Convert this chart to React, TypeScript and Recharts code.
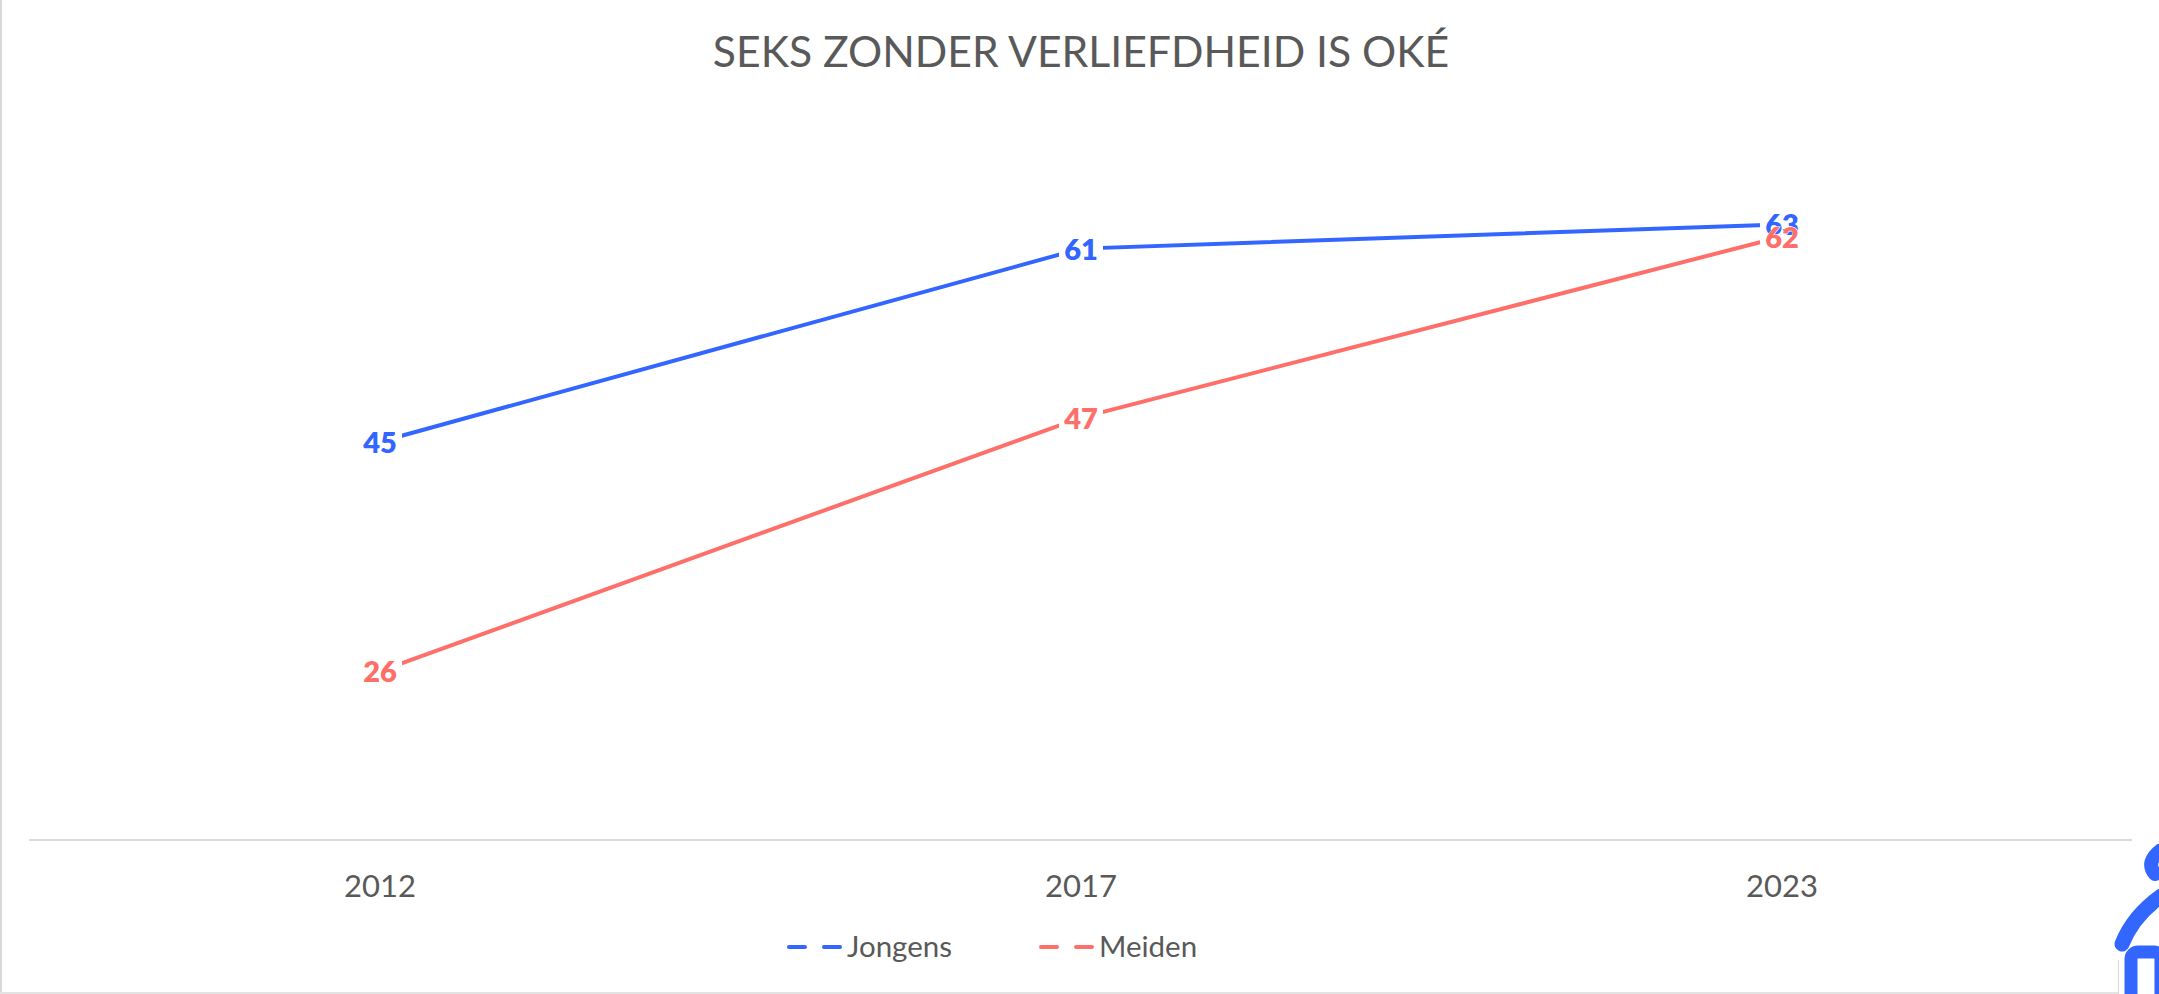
import React from "react";
import { LineChart, Line, XAxis, YAxis, Legend } from "recharts";

const years = ["2012", "2017", "2023"];
const jongens = [45, 61, 63];
const meiden = [26, 47, 62];
const BLUE = "#3366ff";
const RED = "#ff6f69";
const GREY = "#595959";
const FONT = "Lato, sans-serif";

const rows = years.map((year, i) => ({ year, Jongens: jongens[i], Meiden: meiden[i] }));

const MaskLabel = (p: any) => (
  <rect x={p.x - 22} y={p.y - 12} width={44} height={24} fill="#fff" />
);

const valueLabel = (color: string) => (p: any) => (
  <text
    x={p.x}
    y={p.y}
    dy={11}
    textAnchor="middle"
    fontFamily={FONT}
    fontWeight={800}
    fontSize={29}
    fill={color}
    stroke="#fff"
    strokeWidth={1}
    paintOrder="stroke"
  >
    {p.value}
  </text>
);

const LegendContent = () => (
  <svg width={450} height={40} style={{ display: "block" }}>
    {[
      { name: "Jongens", color: BLUE, x: 0 },
      { name: "Meiden", color: RED, x: 252 },
    ].map((e) => (
      <g key={e.name}>
        <line x1={e.x + 2} x2={e.x + 56} y1={20} y2={20} stroke={e.color} strokeWidth={4} strokeLinecap="round" strokeDasharray="16 19" />
        <text x={e.x + 60} y={30} fontFamily={FONT} fontSize={29.5} fill={GREY}>{e.name}</text>
      </g>
    ))}
  </svg>
);

export default function App() {
  return (
    <div style={{ position: "absolute", left: 0, top: 0, width: 2159, height: 994, background: "#fff", overflow: "hidden" }}>
      <div style={{ position: "absolute", left: 0, top: 0, width: 2, height: 994, background: "#d9d9d9" }} />
      <div style={{ position: "absolute", left: 0, top: 992, width: 2119, height: 2, background: "#e3e3e3" }} />
      <div style={{ position: "absolute", left: 3, right: 0, top: 25, textAlign: "center", fontFamily: FONT, fontSize: 42.7, color: GREY }}>
        SEKS ZONDER VERLIEFDHEID IS OKÉ
      </div>
      <LineChart width={2159} height={994} data={rows} margin={{ top: 140, right: 27, bottom: 54, left: 29 }} style={{ position: "absolute", left: 0, top: 0 }}>
        <XAxis dataKey="year" height={60} padding={{ left: 351, right: 350 }} axisLine={{ stroke: "#d9d9d9", strokeWidth: 2 }} tickLine={false} tickMargin={29} tick={{ fontFamily: FONT, fontSize: 31, fill: GREY }} />
        <YAxis hide domain={[12, 70]} />
        <Legend content={LegendContent} wrapperStyle={{ left: 787, top: 927, width: 450, height: 40, bottom: "auto" }} />
        <Line dataKey="Jongens" stroke={BLUE} strokeWidth={4} dot={false} isAnimationActive={false} />
        <Line dataKey="Meiden" stroke={RED} strokeWidth={4} dot={false} isAnimationActive={false} />
        <Line dataKey="Jongens" stroke="none" dot={false} legendType="none" label={MaskLabel} isAnimationActive={false} />
        <Line dataKey="Meiden" stroke="none" dot={false} legendType="none" label={MaskLabel} isAnimationActive={false} />
        <Line dataKey="Jongens" stroke="none" dot={false} legendType="none" label={valueLabel(BLUE)} isAnimationActive={false} />
        <Line dataKey="Meiden" stroke="none" dot={false} legendType="none" label={valueLabel(RED)} isAnimationActive={false} />
      </LineChart>
      <svg width={60} height={150} style={{ position: "absolute", left: 2105, top: 844 }}>
        <g fill="none" strokeLinecap="round">
          <path d="M17 100 Q28 72 56 52" stroke="#fff" strokeWidth={24} />
          <path d="M50 30 Q40 18 56 6" stroke="#fff" strokeWidth={24} />
          <rect x={26} y={108} width={30} height={50} rx={7} stroke="#fff" strokeWidth={20} />
          <path d="M17 100 Q28 72 56 52" stroke={BLUE} strokeWidth={15} />
          <path d="M50 30 Q40 18 56 6" stroke={BLUE} strokeWidth={14} />
          <rect x={26} y={108} width={30} height={50} rx={7} stroke={BLUE} strokeWidth={13} />
        </g>
      </svg>
      <div style={{ position: "absolute", left: 2118, top: 960, width: 1, height: 34, background: "#d9d9d9" }} />
    </div>
  );
}
